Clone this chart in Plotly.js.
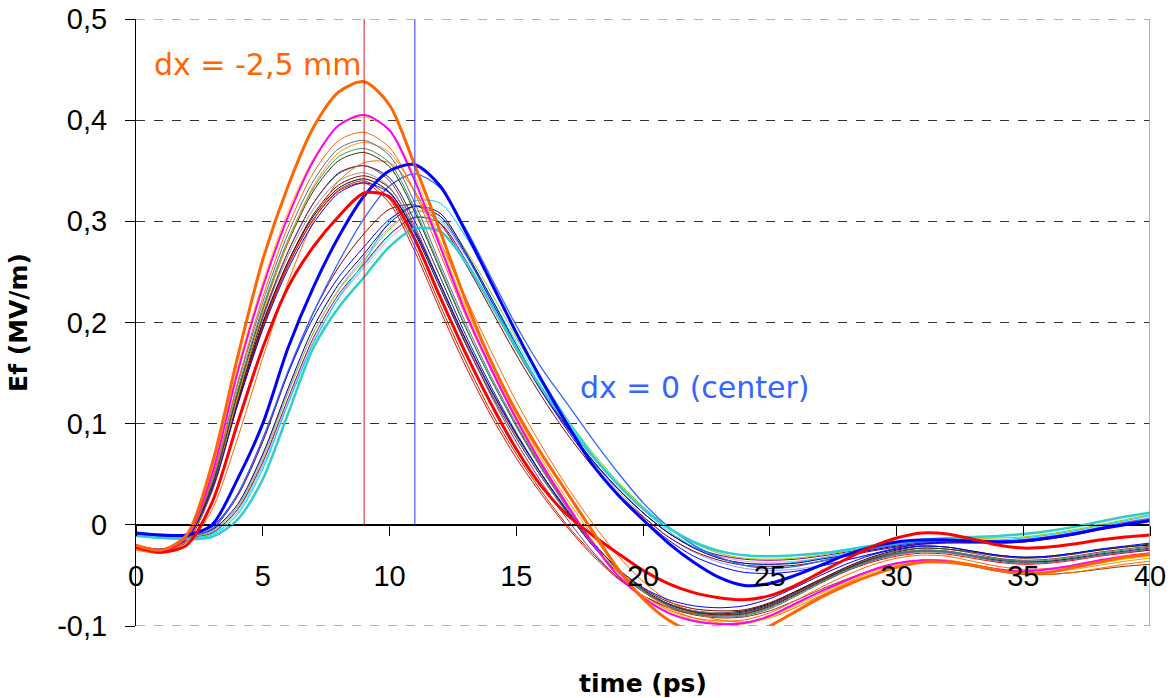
<!DOCTYPE html>
<html><head><meta charset="utf-8">
<script src="https://cdn.plot.ly/plotly-3.0.1.min.js"></script>
<style>html,body{margin:0;padding:0;background:#fff}#chart{width:1174px;height:698px}</style>
</head><body><div id="chart"></div>
<script>
// time axis (ps)
const time = [0,1,2,3,4,5,6,7,8,9,10,11,12,13,14,15,16,17,18,19,20,21,22,23,24,25,26,27,28,29,30,31,32,33,34,35,36,37,38,39,40];

// ---- dx = -2.5 mm group (peak near 9 ps) ----
const efOrangeThick = [-0.02,-0.025,-0.01,0.06,0.165,0.262,0.335,0.393,0.428,0.438,0.415,0.355,0.29,0.222,0.162,0.112,0.07,0.032,-0.006,-0.043,-0.073,-0.094,-0.106,-0.111,-0.11,-0.1,-0.086,-0.072,-0.06,-0.05,-0.042,-0.037,-0.037,-0.04,-0.045,-0.048,-0.047,-0.042,-0.037,-0.032,-0.029];
const efMagenta = [-0.02,-0.026,-0.012,0.05,0.15,0.235,0.305,0.36,0.395,0.405,0.39,0.34,0.275,0.21,0.155,0.105,0.06,0.02,-0.018,-0.05,-0.072,-0.087,-0.095,-0.098,-0.097,-0.09,-0.078,-0.066,-0.055,-0.045,-0.038,-0.035,-0.036,-0.04,-0.044,-0.046,-0.044,-0.04,-0.035,-0.031,-0.028];
const efGold = [-0.021,-0.025,-0.01,0.055,0.155,0.24,0.31,0.362,0.395,0.403,0.39,0.345,0.28,0.215,0.16,0.108,0.062,0.022,-0.015,-0.047,-0.07,-0.085,-0.094,-0.098,-0.098,-0.092,-0.08,-0.068,-0.057,-0.047,-0.04,-0.036,-0.036,-0.04,-0.045,-0.048,-0.047,-0.043,-0.038,-0.034,-0.031];
const efOrange2 = [-0.024,-0.028,-0.014,0.045,0.14,0.225,0.295,0.348,0.38,0.388,0.373,0.328,0.268,0.207,0.153,0.103,0.058,0.018,-0.018,-0.049,-0.07,-0.084,-0.092,-0.095,-0.094,-0.087,-0.075,-0.062,-0.05,-0.04,-0.033,-0.03,-0.031,-0.036,-0.041,-0.044,-0.043,-0.04,-0.036,-0.033,-0.03];
const efBlueGray = [-0.02,-0.024,-0.012,0.045,0.138,0.22,0.288,0.34,0.372,0.38,0.365,0.318,0.258,0.2,0.147,0.1,0.057,0.018,-0.016,-0.045,-0.066,-0.08,-0.088,-0.091,-0.09,-0.083,-0.071,-0.058,-0.046,-0.036,-0.029,-0.026,-0.027,-0.031,-0.036,-0.038,-0.037,-0.034,-0.03,-0.027,-0.024];
const efOrange3 = [-0.023,-0.027,-0.016,0.035,0.125,0.21,0.28,0.335,0.368,0.378,0.368,0.33,0.275,0.215,0.16,0.11,0.065,0.025,-0.01,-0.042,-0.066,-0.082,-0.092,-0.097,-0.097,-0.091,-0.08,-0.068,-0.056,-0.046,-0.039,-0.035,-0.035,-0.039,-0.044,-0.047,-0.047,-0.044,-0.04,-0.036,-0.033];
const efSeaGreen = [-0.021,-0.025,-0.013,0.042,0.133,0.215,0.282,0.333,0.364,0.372,0.358,0.312,0.254,0.196,0.144,0.097,0.055,0.017,-0.017,-0.045,-0.066,-0.08,-0.088,-0.09,-0.089,-0.082,-0.07,-0.057,-0.045,-0.035,-0.028,-0.025,-0.026,-0.03,-0.034,-0.036,-0.035,-0.032,-0.028,-0.025,-0.022];
const efDarkOlive = [-0.022,-0.026,-0.014,0.04,0.13,0.212,0.279,0.33,0.36,0.368,0.354,0.309,0.252,0.195,0.144,0.098,0.056,0.018,-0.016,-0.044,-0.064,-0.078,-0.086,-0.089,-0.088,-0.081,-0.069,-0.056,-0.044,-0.034,-0.027,-0.023,-0.024,-0.027,-0.031,-0.033,-0.032,-0.029,-0.025,-0.022,-0.019];
const efOrangeLate = [-0.025,-0.028,-0.02,0.015,0.085,0.165,0.24,0.3,0.34,0.358,0.358,0.33,0.28,0.225,0.172,0.122,0.078,0.038,0.002,-0.03,-0.056,-0.075,-0.087,-0.094,-0.096,-0.092,-0.082,-0.07,-0.058,-0.047,-0.039,-0.035,-0.035,-0.039,-0.044,-0.048,-0.049,-0.047,-0.043,-0.039,-0.036];
const efPlum = [-0.02,-0.024,-0.013,0.04,0.128,0.207,0.27,0.318,0.347,0.355,0.34,0.295,0.238,0.18,0.128,0.082,0.042,0.006,-0.026,-0.052,-0.07,-0.082,-0.088,-0.09,-0.088,-0.08,-0.068,-0.055,-0.043,-0.033,-0.026,-0.023,-0.024,-0.028,-0.033,-0.035,-0.034,-0.031,-0.027,-0.024,-0.021];
const efDarkTeal = [-0.023,-0.027,-0.015,0.038,0.125,0.205,0.27,0.318,0.348,0.355,0.343,0.3,0.245,0.188,0.137,0.091,0.05,0.013,-0.02,-0.047,-0.066,-0.079,-0.086,-0.088,-0.086,-0.079,-0.067,-0.055,-0.044,-0.035,-0.029,-0.026,-0.027,-0.031,-0.035,-0.037,-0.036,-0.033,-0.029,-0.026,-0.023];
const efGray = [-0.021,-0.025,-0.014,0.04,0.127,0.204,0.266,0.312,0.34,0.348,0.334,0.291,0.236,0.181,0.131,0.087,0.048,0.012,-0.02,-0.046,-0.065,-0.078,-0.085,-0.087,-0.086,-0.079,-0.068,-0.056,-0.045,-0.036,-0.03,-0.027,-0.028,-0.032,-0.036,-0.038,-0.037,-0.034,-0.03,-0.027,-0.024];
const efDarkRed = [-0.022,-0.026,-0.016,0.035,0.12,0.198,0.26,0.307,0.336,0.345,0.333,0.292,0.238,0.183,0.133,0.089,0.05,0.014,-0.018,-0.044,-0.063,-0.076,-0.083,-0.085,-0.084,-0.077,-0.066,-0.054,-0.043,-0.034,-0.028,-0.025,-0.026,-0.03,-0.034,-0.036,-0.036,-0.033,-0.03,-0.027,-0.025];
const efBlack = [-0.021,-0.025,-0.015,0.037,0.123,0.2,0.26,0.305,0.333,0.342,0.329,0.288,0.234,0.179,0.13,0.086,0.047,0.012,-0.02,-0.046,-0.065,-0.078,-0.085,-0.087,-0.085,-0.078,-0.066,-0.054,-0.042,-0.032,-0.025,-0.021,-0.022,-0.026,-0.03,-0.032,-0.031,-0.028,-0.025,-0.022,-0.02];
const efRedThin = [-0.02,-0.025,-0.016,0.035,0.12,0.196,0.257,0.302,0.33,0.338,0.318,0.27,0.212,0.157,0.108,0.066,0.03,-0.002,-0.03,-0.053,-0.07,-0.081,-0.087,-0.089,-0.087,-0.08,-0.069,-0.057,-0.046,-0.037,-0.031,-0.028,-0.029,-0.033,-0.037,-0.039,-0.038,-0.035,-0.031,-0.028,-0.025];
const efBrown = [-0.023,-0.027,-0.017,0.033,0.118,0.195,0.256,0.302,0.331,0.34,0.322,0.275,0.217,0.162,0.112,0.07,0.033,0.0,-0.028,-0.052,-0.07,-0.082,-0.089,-0.092,-0.091,-0.085,-0.075,-0.064,-0.054,-0.045,-0.039,-0.036,-0.037,-0.041,-0.046,-0.049,-0.049,-0.047,-0.044,-0.041,-0.039];
const efBlueInOrange = [-0.02,-0.024,-0.014,0.035,0.118,0.193,0.253,0.298,0.328,0.338,0.328,0.29,0.238,0.184,0.134,0.09,0.05,0.015,-0.017,-0.043,-0.062,-0.074,-0.08,-0.082,-0.08,-0.073,-0.062,-0.05,-0.039,-0.03,-0.024,-0.021,-0.022,-0.026,-0.03,-0.032,-0.031,-0.028,-0.024,-0.021,-0.018];
const efRedThick = [-0.022,-0.027,-0.02,0.022,0.1,0.175,0.235,0.275,0.305,0.328,0.324,0.282,0.225,0.17,0.12,0.075,0.038,0.01,-0.01,-0.028,-0.045,-0.058,-0.067,-0.072,-0.074,-0.07,-0.06,-0.047,-0.034,-0.022,-0.013,-0.008,-0.009,-0.014,-0.02,-0.023,-0.022,-0.019,-0.015,-0.012,-0.01];

// ---- dx = 0 (center) group (peak near 11 ps) ----
const efBlueThick = [-0.008,-0.01,-0.01,0.0,0.045,0.1,0.175,0.235,0.285,0.325,0.35,0.356,0.335,0.29,0.24,0.19,0.143,0.1,0.06,0.03,0.005,-0.018,-0.037,-0.052,-0.06,-0.058,-0.05,-0.04,-0.03,-0.022,-0.017,-0.015,-0.015,-0.016,-0.017,-0.016,-0.013,-0.009,-0.004,0.0,0.004];
const efLightBlue = [-0.008,-0.01,-0.011,-0.004,0.03,0.085,0.152,0.21,0.26,0.303,0.335,0.347,0.333,0.293,0.245,0.197,0.155,0.12,0.085,0.052,0.022,-0.002,-0.02,-0.032,-0.04,-0.043,-0.041,-0.036,-0.03,-0.024,-0.02,-0.017,-0.016,-0.016,-0.016,-0.015,-0.012,-0.008,-0.003,0.002,0.006];
const efSkyBlue = [-0.01,-0.012,-0.013,-0.01,0.01,0.055,0.12,0.18,0.225,0.26,0.3,0.32,0.318,0.285,0.24,0.19,0.145,0.105,0.07,0.04,0.015,-0.006,-0.022,-0.033,-0.038,-0.039,-0.037,-0.033,-0.028,-0.023,-0.019,-0.016,-0.015,-0.015,-0.015,-0.013,-0.01,-0.006,-0.001,0.004,0.009];
const efAquaThick = [-0.011,-0.013,-0.014,-0.012,0.005,0.045,0.11,0.175,0.215,0.245,0.275,0.293,0.29,0.26,0.218,0.175,0.135,0.1,0.068,0.04,0.016,-0.003,-0.017,-0.026,-0.03,-0.031,-0.03,-0.028,-0.025,-0.021,-0.018,-0.015,-0.013,-0.012,-0.011,-0.009,-0.006,-0.002,0.003,0.008,0.012];
const efLime = [-0.009,-0.011,-0.012,-0.007,0.017,0.065,0.13,0.19,0.232,0.262,0.292,0.31,0.305,0.272,0.23,0.185,0.143,0.105,0.072,0.043,0.018,-0.003,-0.018,-0.028,-0.033,-0.034,-0.033,-0.03,-0.026,-0.022,-0.018,-0.016,-0.014,-0.014,-0.013,-0.012,-0.009,-0.005,0.0,0.005,0.01];
const efPurple = [-0.01,-0.012,-0.012,-0.008,0.015,0.062,0.125,0.185,0.228,0.258,0.287,0.304,0.298,0.262,0.218,0.173,0.132,0.096,0.064,0.036,0.012,-0.008,-0.022,-0.03,-0.034,-0.035,-0.034,-0.031,-0.027,-0.023,-0.019,-0.017,-0.016,-0.016,-0.016,-0.015,-0.012,-0.008,-0.003,0.002,0.006];
const efNavy = [-0.008,-0.01,-0.011,-0.005,0.02,0.07,0.135,0.195,0.238,0.268,0.298,0.315,0.308,0.27,0.225,0.178,0.135,0.097,0.064,0.036,0.012,-0.008,-0.023,-0.033,-0.038,-0.039,-0.038,-0.034,-0.03,-0.025,-0.021,-0.018,-0.017,-0.017,-0.017,-0.016,-0.013,-0.009,-0.004,0.001,0.005];
const efLightGreen = [-0.01,-0.012,-0.013,-0.01,0.01,0.055,0.118,0.178,0.22,0.25,0.28,0.298,0.292,0.258,0.215,0.17,0.13,0.095,0.063,0.035,0.012,-0.007,-0.02,-0.029,-0.033,-0.034,-0.033,-0.03,-0.026,-0.022,-0.018,-0.016,-0.014,-0.014,-0.013,-0.011,-0.008,-0.004,0.001,0.006,0.01];
const efLavender = [-0.009,-0.011,-0.012,-0.006,0.018,0.068,0.132,0.19,0.233,0.265,0.294,0.31,0.302,0.266,0.222,0.177,0.135,0.097,0.063,0.034,0.009,-0.012,-0.027,-0.037,-0.043,-0.045,-0.044,-0.04,-0.035,-0.029,-0.024,-0.02,-0.018,-0.018,-0.018,-0.017,-0.014,-0.01,-0.005,0.0,0.004];
const efPink = [-0.01,-0.012,-0.012,-0.008,0.014,0.06,0.122,0.182,0.224,0.254,0.283,0.3,0.295,0.26,0.217,0.173,0.132,0.096,0.064,0.036,0.012,-0.008,-0.022,-0.031,-0.036,-0.037,-0.036,-0.033,-0.029,-0.025,-0.021,-0.018,-0.017,-0.017,-0.016,-0.014,-0.011,-0.007,-0.002,0.003,0.007];
const efDarkRed2 = [-0.009,-0.011,-0.011,-0.004,0.028,0.082,0.15,0.21,0.255,0.288,0.312,0.316,0.298,0.258,0.213,0.168,0.127,0.09,0.058,0.031,0.008,-0.012,-0.026,-0.035,-0.04,-0.041,-0.04,-0.036,-0.031,-0.026,-0.022,-0.019,-0.018,-0.018,-0.018,-0.017,-0.014,-0.01,-0.005,0.0,0.004];
const efTurquoise = [-0.011,-0.013,-0.013,-0.009,0.012,0.058,0.12,0.18,0.224,0.256,0.286,0.304,0.3,0.267,0.225,0.181,0.14,0.103,0.07,0.042,0.018,-0.002,-0.016,-0.025,-0.03,-0.031,-0.03,-0.028,-0.024,-0.02,-0.017,-0.014,-0.013,-0.012,-0.011,-0.009,-0.006,-0.002,0.003,0.008,0.012];
const efBlue2 = [-0.008,-0.01,-0.01,-0.002,0.03,0.085,0.15,0.205,0.245,0.275,0.302,0.315,0.305,0.268,0.222,0.175,0.132,0.094,0.06,0.031,0.006,-0.015,-0.031,-0.041,-0.047,-0.048,-0.046,-0.041,-0.035,-0.029,-0.023,-0.019,-0.017,-0.017,-0.017,-0.016,-0.013,-0.009,-0.004,0.001,0.005];

// marker lines (peak times)
const peakTimeLeft = [9, 9];
const peakTimeCenter = [11, 11];
const markerLineEf = [0, 0.5];

// axis tick labels
const yTickVals = [-0.1, 0, 0.1, 0.2, 0.3, 0.4, 0.5];
const yTickText = ['-0,1', '0', '0,1', '0,2', '0,3', '0,4', '0,5'];
const xTickVals = [0, 5, 10, 15, 20, 25, 30, 35, 40];
const xTickText = ['0', '5', '10', '15', '20', '25', '30', '35', '40'];

// drawing order + styles (kept separate from data)
const seriesList = [
  [efLightGreen, '#CCFFCC', 1], [efTurquoise, '#00FFFF', 1], [efPink, '#FF99CC', 1],
  [efLavender, '#9999FF', 1], [efPurple, '#800080', 1], [efLime, '#99CC00', 1],
  [efSkyBlue, '#00CCFF', 1], [efNavy, '#000080', 1], [efDarkRed2, '#800000', 1],
  [efBlue2, '#0000FF', 1], [efLightBlue, '#3366FF', 1.3],
  [efBrown, '#993300', 1], [efRedThin, '#FF0000', 1], [efBlack, '#000000', 1],
  [efDarkRed, '#800000', 1], [efGray, '#969696', 1], [efDarkTeal, '#003366', 1],
  [efPlum, '#993366', 1], [efOrangeLate, '#FF6600', 1], [efDarkOlive, '#333300', 1],
  [efSeaGreen, '#339966', 1], [efOrange3, '#FF9900', 1], [efBlueGray, '#666699', 1],
  [efOrange2, '#FF6600', 1], [efGold, '#FFCC00', 1], [efBlueInOrange, '#0000FF', 1],
  [efAquaThick, '#33CCCC', 2.5], [efMagenta, '#FF00FF', 2],
  [efBlueThick, '#0000FF', 3], [efRedThick, '#FF0000', 3], [efOrangeThick, '#FF6600', 3]
];

const traces = seriesList.map(([vals, color, w]) => ({
  type: 'scatter', mode: 'lines', x: time, y: vals,
  line: {color: color, width: w, shape: 'spline', smoothing: 0.8},
  hoverinfo: 'skip', showlegend: false
}));
traces.push({type: 'scatter', mode: 'lines', x: peakTimeLeft, y: markerLineEf,
  line: {color: '#CC2222', width: 1}, showlegend: false, hoverinfo: 'skip'});
traces.push({type: 'scatter', mode: 'lines', x: peakTimeCenter, y: markerLineEf,
  line: {color: '#3333FF', width: 1}, showlegend: false, hoverinfo: 'skip'});

const tickFont = {family: 'Liberation Sans, Arial, sans-serif', size: 29, color: '#000'};
const titleFont = {family: 'DejaVu Sans, sans-serif', size: 25, color: '#000', weight: 'bold'};

const layout = {
  width: 1174, height: 698,
  margin: {l: 136, r: 24, t: 19, b: 72, pad: 0},
  paper_bgcolor: '#fff', plot_bgcolor: '#fff',
  showlegend: false,
  xaxis: {
    range: [0, 40], anchor: 'free', position: 1/6,
    tickvals: xTickVals, ticktext: xTickText,
    ticks: 'outside', ticklen: 10, tickcolor: '#000', tickwidth: 1,
    ticklabelstandoff: 15,
    showline: true, linecolor: '#000', linewidth: 1,
    showgrid: false, zeroline: false,
    tickfont: tickFont,
    title: {text: 'time (ps)', font: titleFont, standoff: 89},
    automargin: false
  },
  yaxis: {
    range: [-0.1, 0.5],
    tickvals: yTickVals, ticktext: yTickText,
    ticks: 'outside', ticklen: 10, tickcolor: '#000', tickwidth: 1,
    ticklabelstandoff: 12,
    showline: true, linecolor: '#000', linewidth: 1,
    showgrid: true, gridcolor: '#333', griddash: 'dash', gridwidth: 1,
    zeroline: true, zerolinecolor: '#000', zerolinewidth: 1,
    tickfont: tickFont,
    title: {text: 'Ef (MV/m)', font: titleFont, standoff: 22},
    automargin: false
  },
  shapes: [
    {type: 'line', xref: 'paper', yref: 'y', x0: 0, x1: 1, y0: 0.5, y1: 0.5, line: {color: '#999', width: 1.5, dash: 'dash'}},
    {type: 'line', xref: 'paper', yref: 'y', x0: 0, x1: 1, y0: -0.1, y1: -0.1, line: {color: '#999', width: 1.5, dash: 'dash'}},
    {type: 'line', xref: 'x', yref: 'paper', x0: 40, x1: 40, y0: 0, y1: 1, line: {color: '#999', width: 1.5}}
  ],
  annotations: [
    {text: 'dx = -2,5 mm', x: 0.63, y: 0.455, xref: 'x', yref: 'y', xanchor: 'left', yanchor: 'middle',
     showarrow: false, font: {family: 'DejaVu Sans, sans-serif', size: 30, color: '#FF6600'}},
    {text: 'dx = 0 (center)', x: 17.43, y: 0.1356, xref: 'x', yref: 'y', xanchor: 'left', yanchor: 'middle',
     showarrow: false, font: {family: 'DejaVu Sans, sans-serif', size: 30, color: '#3366FF'}}
  ]
};

Plotly.newPlot('chart', traces, layout, {displayModeBar: false, staticPlot: true});
</script>
</body></html>
